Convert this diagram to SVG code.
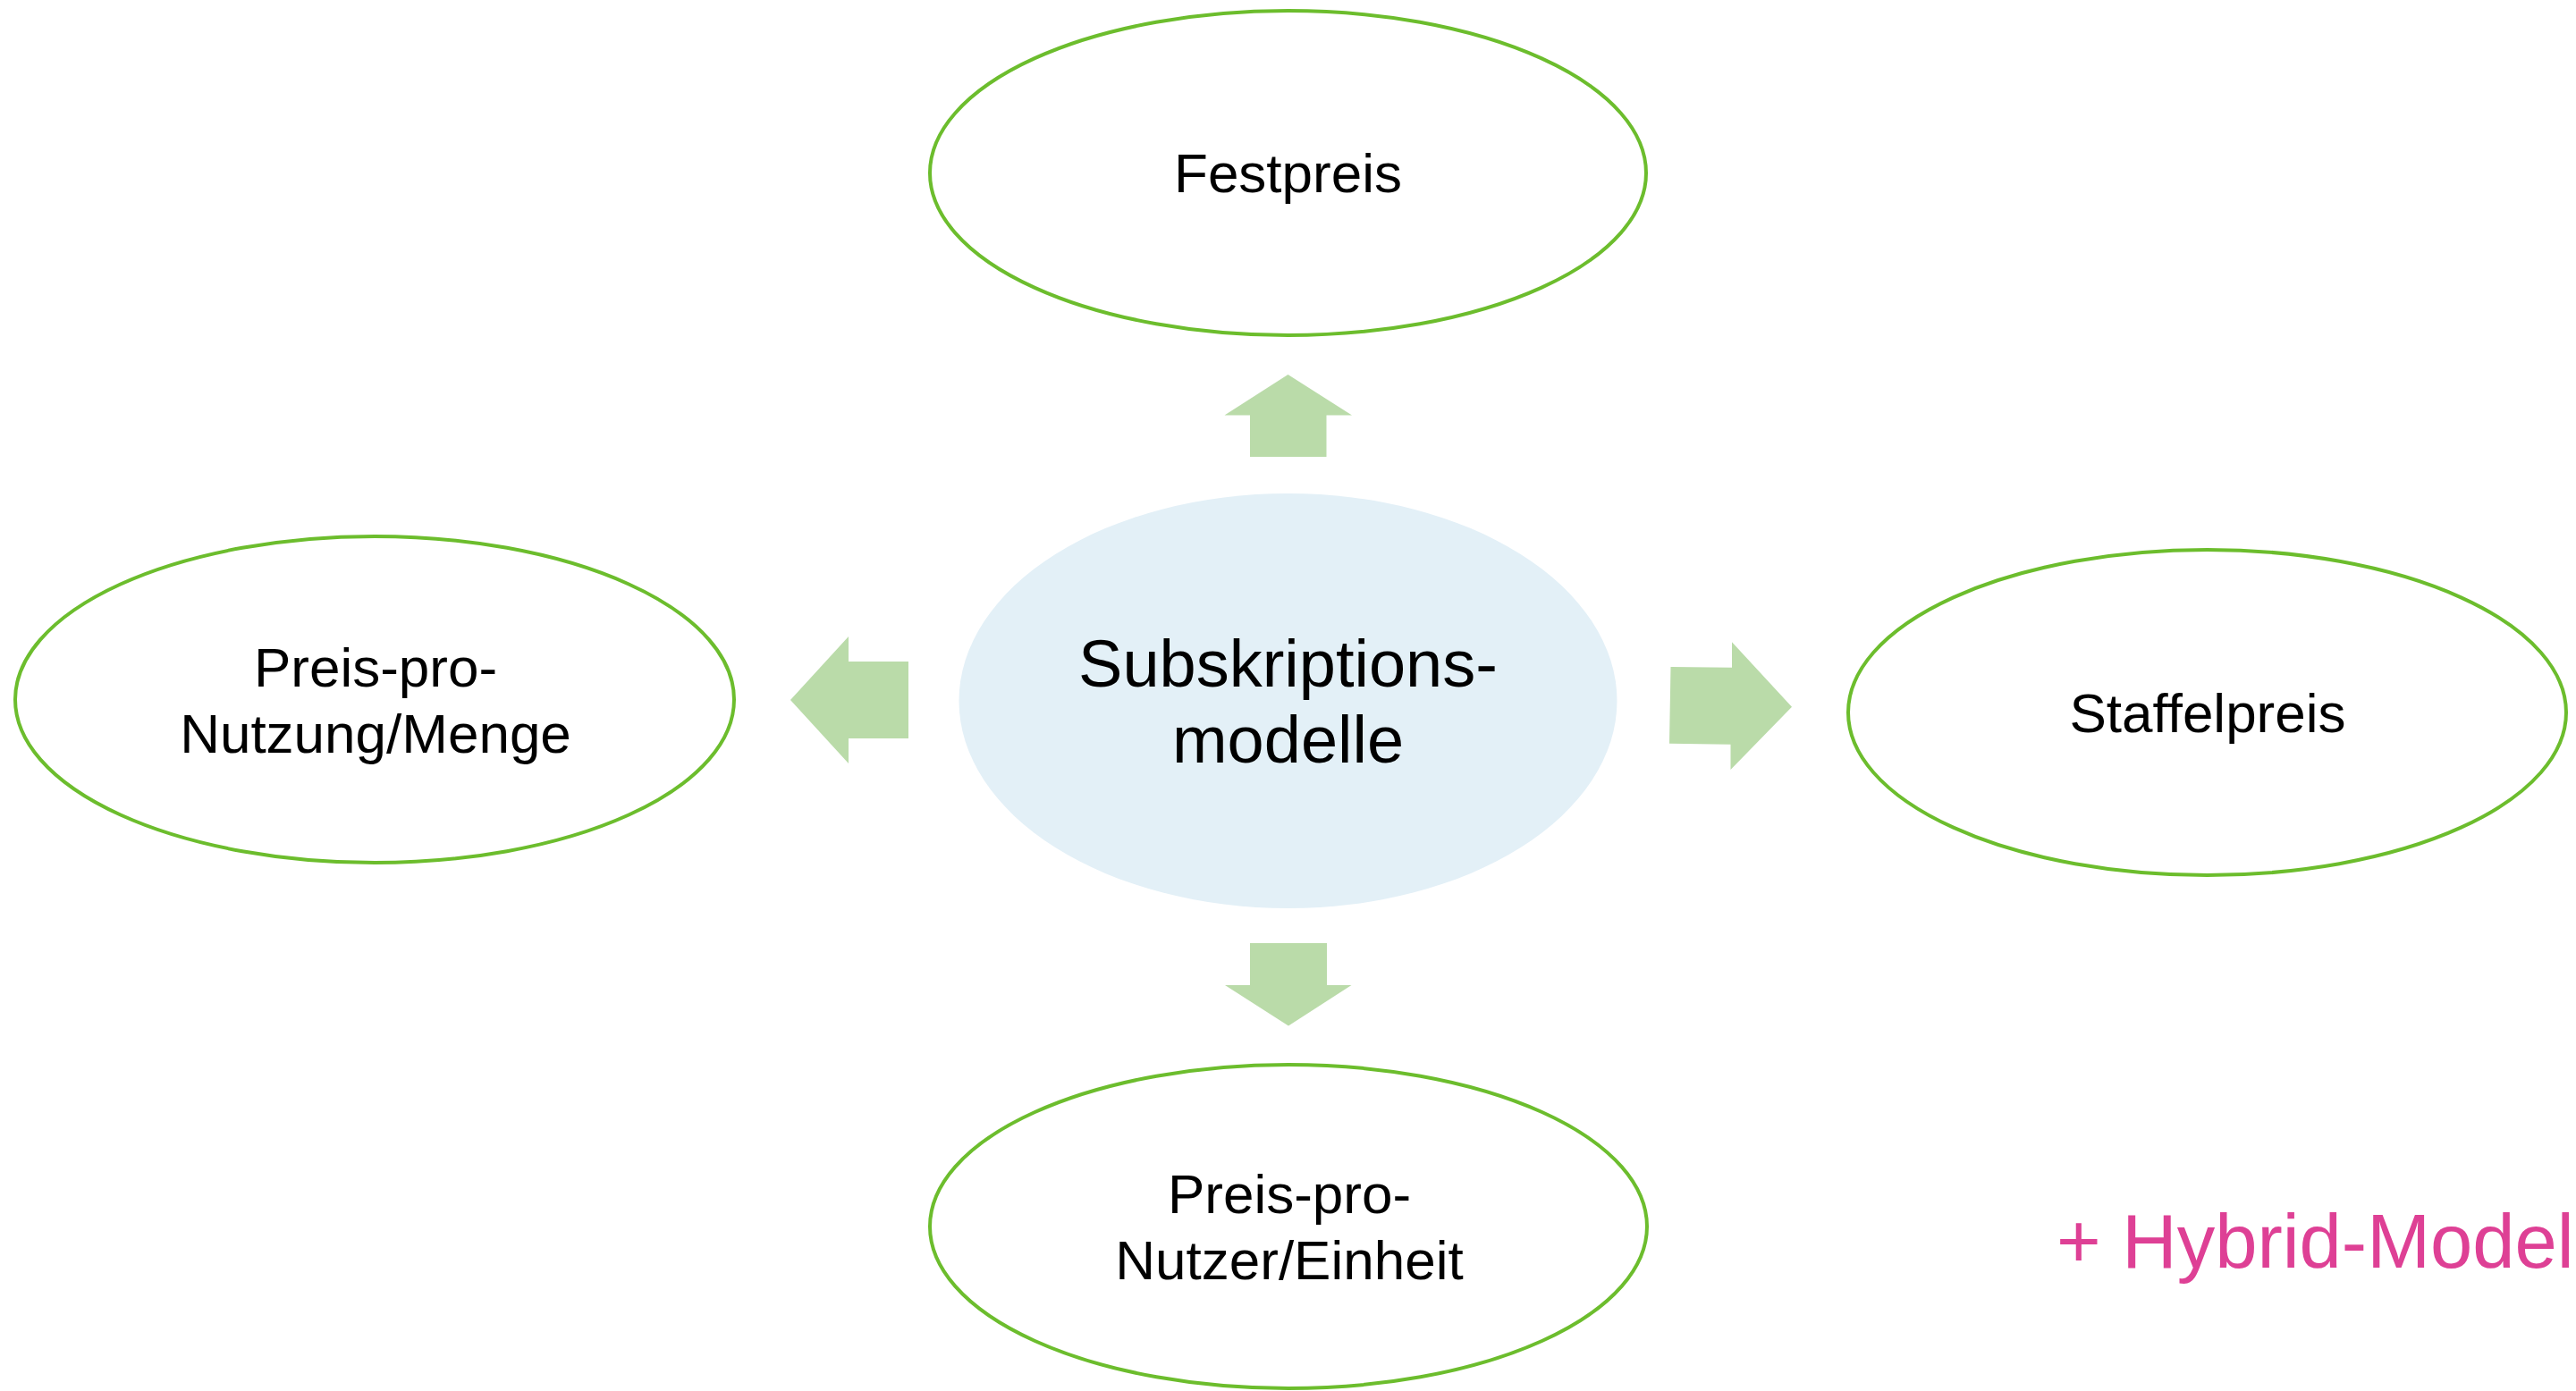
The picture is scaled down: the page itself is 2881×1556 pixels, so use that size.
<svg xmlns="http://www.w3.org/2000/svg" width="2881" height="1556" viewBox="0 0 2881 1556">
<style>
.out{fill:#ffffff;stroke:#6cbd2d;stroke-width:4}
.ctr{fill:#e3f0f7;stroke:none}
.arr{fill:#badba9;stroke:none}
.lbl{font-family:"Liberation Sans",Arial,sans-serif;font-size:62px;fill:#000000;text-anchor:middle}
.big{font-size:74px}
.hyb{font-family:"Liberation Sans",Arial,sans-serif;font-size:85px;fill:#de4095}
</style>
<rect width="2881" height="1556" fill="#ffffff"/>
<g id="connectors">
<polygon class="arr" points="1440.5,419 1512,464.5 1483.5,464.5 1483.5,511 1398,511 1398,464.5 1369.5,464.5"/>
<polygon class="arr" points="884,783 949,712 949,740 1016,740 1016,826 949,826 949,854"/>
<polygon class="arr" points="1868.5,746 1937,746.7 1937,718.3 2004,790.7 1935.5,861 1935.5,832.7 1867,831.7"/>
<polygon class="arr" points="1398,1055 1484,1055 1484,1102 1511.5,1102 1441,1147.5 1370,1102 1398,1102"/>
</g>
<g id="center">
<ellipse class="ctr" cx="1440.5" cy="784" rx="368" ry="232"/>
<text class="lbl big" x="1440.5" y="768">Subskriptions-</text>
<text class="lbl big" x="1440.5" y="853">modelle</text>
</g>
<g id="festpreis">
<ellipse class="out" cx="1440.5" cy="193.5" rx="400.5" ry="181.5"/>
<text class="lbl" x="1440.5" y="215">Festpreis</text>
</g>
<g id="preis-pro-nutzung">
<ellipse class="out" cx="419" cy="782.5" rx="402" ry="182.5"/>
<text class="lbl" x="420" y="768">Preis-pro-</text>
<text class="lbl" x="420" y="842">Nutzung/Menge</text>
</g>
<g id="staffelpreis">
<ellipse class="out" cx="2468.5" cy="797" rx="401.5" ry="182"/>
<text class="lbl" x="2469" y="819">Staffelpreis</text>
</g>
<g id="preis-pro-nutzer">
<ellipse class="out" cx="1441" cy="1372" rx="401" ry="181"/>
<text class="lbl" x="1442" y="1357">Preis-pro-</text>
<text class="lbl" x="1442" y="1431">Nutzer/Einheit</text>
</g>
<g id="hybrid">
<text class="hyb" x="2300" y="1418">+ Hybrid-Modelle</text>
</g>
</svg>
